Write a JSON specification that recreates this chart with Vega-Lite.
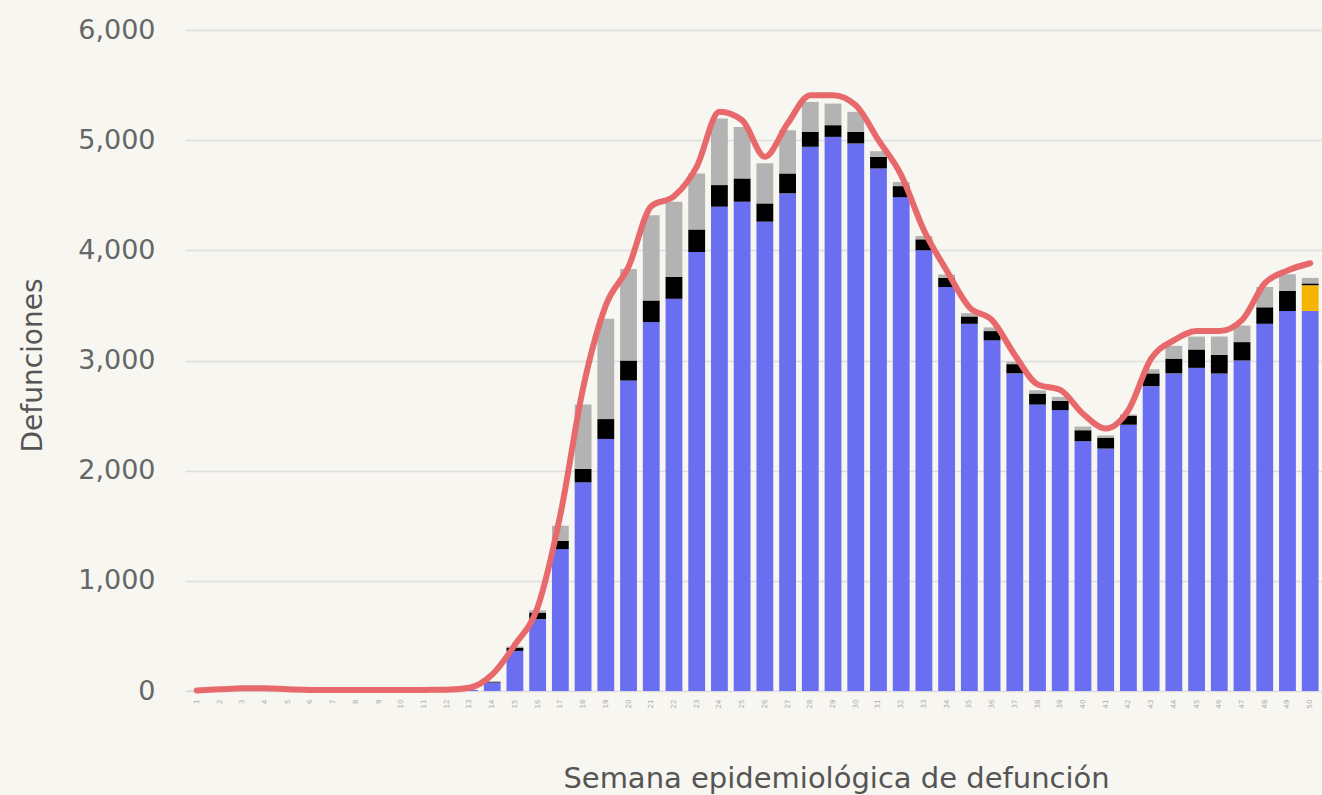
{
  "$schema": "https://vega.github.io/schema/vega-lite/v6.json",
  "width": 1137,
  "height": 661,
  "autosize": {"type": "none"},
  "padding": {"left": 185, "top": 30, "right": 0, "bottom": 104},
  "background": "#f7f6f1",
  "config": {
    "view": {"stroke": null},
    "font": "DejaVu Sans"
  },
  "datasets": {
    "barras": [
      {"semana": 1, "tipo": "Confirmado", "orden": 1, "valor": 2},
      {"semana": 2, "tipo": "Confirmado", "orden": 1, "valor": 2},
      {"semana": 3, "tipo": "Confirmado", "orden": 1, "valor": 3},
      {"semana": 4, "tipo": "Confirmado", "orden": 1, "valor": 3},
      {"semana": 5, "tipo": "Confirmado", "orden": 1, "valor": 2},
      {"semana": 6, "tipo": "Confirmado", "orden": 1, "valor": 2},
      {"semana": 7, "tipo": "Confirmado", "orden": 1, "valor": 2},
      {"semana": 8, "tipo": "Confirmado", "orden": 1, "valor": 2},
      {"semana": 9, "tipo": "Confirmado", "orden": 1, "valor": 2},
      {"semana": 10, "tipo": "Confirmado", "orden": 1, "valor": 3},
      {"semana": 11, "tipo": "Confirmado", "orden": 1, "valor": 3},
      {"semana": 12, "tipo": "Confirmado", "orden": 1, "valor": 5},
      {"semana": 13, "tipo": "Confirmado", "orden": 1, "valor": 10},
      {"semana": 14, "tipo": "Confirmado", "orden": 1, "valor": 76},
      {"semana": 14, "tipo": "Asociado", "orden": 3, "valor": 5},
      {"semana": 14, "tipo": "Sospechoso", "orden": 4, "valor": 10},
      {"semana": 15, "tipo": "Confirmado", "orden": 1, "valor": 364},
      {"semana": 15, "tipo": "Asociado", "orden": 3, "valor": 30},
      {"semana": 15, "tipo": "Sospechoso", "orden": 4, "valor": 10},
      {"semana": 16, "tipo": "Confirmado", "orden": 1, "valor": 652},
      {"semana": 16, "tipo": "Asociado", "orden": 3, "valor": 60},
      {"semana": 16, "tipo": "Sospechoso", "orden": 4, "valor": 20},
      {"semana": 17, "tipo": "Confirmado", "orden": 1, "valor": 1288},
      {"semana": 17, "tipo": "Asociado", "orden": 3, "valor": 76},
      {"semana": 17, "tipo": "Sospechoso", "orden": 4, "valor": 136},
      {"semana": 18, "tipo": "Confirmado", "orden": 1, "valor": 1894},
      {"semana": 18, "tipo": "Asociado", "orden": 3, "valor": 121},
      {"semana": 18, "tipo": "Sospechoso", "orden": 4, "valor": 585},
      {"semana": 19, "tipo": "Confirmado", "orden": 1, "valor": 2288},
      {"semana": 19, "tipo": "Asociado", "orden": 3, "valor": 180},
      {"semana": 19, "tipo": "Sospechoso", "orden": 4, "valor": 910},
      {"semana": 20, "tipo": "Confirmado", "orden": 1, "valor": 2818},
      {"semana": 20, "tipo": "Asociado", "orden": 3, "valor": 182},
      {"semana": 20, "tipo": "Sospechoso", "orden": 4, "valor": 830},
      {"semana": 21, "tipo": "Confirmado", "orden": 1, "valor": 3349},
      {"semana": 21, "tipo": "Asociado", "orden": 3, "valor": 196},
      {"semana": 21, "tipo": "Sospechoso", "orden": 4, "valor": 773},
      {"semana": 22, "tipo": "Confirmado", "orden": 1, "valor": 3560},
      {"semana": 22, "tipo": "Asociado", "orden": 3, "valor": 200},
      {"semana": 22, "tipo": "Sospechoso", "orden": 4, "valor": 680},
      {"semana": 23, "tipo": "Confirmado", "orden": 1, "valor": 3985},
      {"semana": 23, "tipo": "Asociado", "orden": 3, "valor": 205},
      {"semana": 23, "tipo": "Sospechoso", "orden": 4, "valor": 508},
      {"semana": 24, "tipo": "Confirmado", "orden": 1, "valor": 4396},
      {"semana": 24, "tipo": "Asociado", "orden": 3, "valor": 196},
      {"semana": 24, "tipo": "Sospechoso", "orden": 4, "valor": 604},
      {"semana": 25, "tipo": "Confirmado", "orden": 1, "valor": 4441},
      {"semana": 25, "tipo": "Asociado", "orden": 3, "valor": 212},
      {"semana": 25, "tipo": "Sospechoso", "orden": 4, "valor": 467},
      {"semana": 26, "tipo": "Confirmado", "orden": 1, "valor": 4260},
      {"semana": 26, "tipo": "Asociado", "orden": 3, "valor": 166},
      {"semana": 26, "tipo": "Sospechoso", "orden": 4, "valor": 364},
      {"semana": 27, "tipo": "Confirmado", "orden": 1, "valor": 4517},
      {"semana": 27, "tipo": "Asociado", "orden": 3, "valor": 181},
      {"semana": 27, "tipo": "Sospechoso", "orden": 4, "valor": 392},
      {"semana": 28, "tipo": "Confirmado", "orden": 1, "valor": 4940},
      {"semana": 28, "tipo": "Asociado", "orden": 3, "valor": 136},
      {"semana": 28, "tipo": "Sospechoso", "orden": 4, "valor": 271},
      {"semana": 29, "tipo": "Confirmado", "orden": 1, "valor": 5030},
      {"semana": 29, "tipo": "Asociado", "orden": 3, "valor": 106},
      {"semana": 29, "tipo": "Sospechoso", "orden": 4, "valor": 196},
      {"semana": 30, "tipo": "Confirmado", "orden": 1, "valor": 4970},
      {"semana": 30, "tipo": "Asociado", "orden": 3, "valor": 106},
      {"semana": 30, "tipo": "Sospechoso", "orden": 4, "valor": 181},
      {"semana": 31, "tipo": "Confirmado", "orden": 1, "valor": 4743},
      {"semana": 31, "tipo": "Asociado", "orden": 3, "valor": 106},
      {"semana": 31, "tipo": "Sospechoso", "orden": 4, "valor": 51},
      {"semana": 32, "tipo": "Confirmado", "orden": 1, "valor": 4483},
      {"semana": 32, "tipo": "Asociado", "orden": 3, "valor": 100},
      {"semana": 32, "tipo": "Sospechoso", "orden": 4, "valor": 37},
      {"semana": 33, "tipo": "Confirmado", "orden": 1, "valor": 4000},
      {"semana": 33, "tipo": "Asociado", "orden": 3, "valor": 100},
      {"semana": 33, "tipo": "Sospechoso", "orden": 4, "valor": 30},
      {"semana": 34, "tipo": "Confirmado", "orden": 1, "valor": 3667},
      {"semana": 34, "tipo": "Asociado", "orden": 3, "valor": 83},
      {"semana": 34, "tipo": "Sospechoso", "orden": 4, "valor": 30},
      {"semana": 35, "tipo": "Confirmado", "orden": 1, "valor": 3333},
      {"semana": 35, "tipo": "Asociado", "orden": 3, "valor": 67},
      {"semana": 35, "tipo": "Sospechoso", "orden": 4, "valor": 30},
      {"semana": 36, "tipo": "Confirmado", "orden": 1, "valor": 3183},
      {"semana": 36, "tipo": "Asociado", "orden": 3, "valor": 84},
      {"semana": 36, "tipo": "Sospechoso", "orden": 4, "valor": 33},
      {"semana": 37, "tipo": "Confirmado", "orden": 1, "valor": 2883},
      {"semana": 37, "tipo": "Asociado", "orden": 3, "valor": 84},
      {"semana": 37, "tipo": "Sospechoso", "orden": 4, "valor": 23},
      {"semana": 38, "tipo": "Confirmado", "orden": 1, "valor": 2600},
      {"semana": 38, "tipo": "Asociado", "orden": 3, "valor": 100},
      {"semana": 38, "tipo": "Sospechoso", "orden": 4, "valor": 30},
      {"semana": 39, "tipo": "Confirmado", "orden": 1, "valor": 2550},
      {"semana": 39, "tipo": "Asociado", "orden": 3, "valor": 83},
      {"semana": 39, "tipo": "Sospechoso", "orden": 4, "valor": 37},
      {"semana": 40, "tipo": "Confirmado", "orden": 1, "valor": 2267},
      {"semana": 40, "tipo": "Asociado", "orden": 3, "valor": 100},
      {"semana": 40, "tipo": "Sospechoso", "orden": 4, "valor": 33},
      {"semana": 41, "tipo": "Confirmado", "orden": 1, "valor": 2200},
      {"semana": 41, "tipo": "Asociado", "orden": 3, "valor": 100},
      {"semana": 41, "tipo": "Sospechoso", "orden": 4, "valor": 20},
      {"semana": 42, "tipo": "Confirmado", "orden": 1, "valor": 2417},
      {"semana": 42, "tipo": "Asociado", "orden": 3, "valor": 83},
      {"semana": 42, "tipo": "Sospechoso", "orden": 4, "valor": 10},
      {"semana": 43, "tipo": "Confirmado", "orden": 1, "valor": 2767},
      {"semana": 43, "tipo": "Asociado", "orden": 3, "valor": 116},
      {"semana": 43, "tipo": "Sospechoso", "orden": 4, "valor": 37},
      {"semana": 44, "tipo": "Confirmado", "orden": 1, "valor": 2883},
      {"semana": 44, "tipo": "Asociado", "orden": 3, "valor": 134},
      {"semana": 44, "tipo": "Sospechoso", "orden": 4, "valor": 116},
      {"semana": 45, "tipo": "Confirmado", "orden": 1, "valor": 2933},
      {"semana": 45, "tipo": "Asociado", "orden": 3, "valor": 167},
      {"semana": 45, "tipo": "Sospechoso", "orden": 4, "valor": 117},
      {"semana": 46, "tipo": "Confirmado", "orden": 1, "valor": 2883},
      {"semana": 46, "tipo": "Asociado", "orden": 3, "valor": 167},
      {"semana": 46, "tipo": "Sospechoso", "orden": 4, "valor": 167},
      {"semana": 47, "tipo": "Confirmado", "orden": 1, "valor": 3000},
      {"semana": 47, "tipo": "Asociado", "orden": 3, "valor": 167},
      {"semana": 47, "tipo": "Sospechoso", "orden": 4, "valor": 150},
      {"semana": 48, "tipo": "Confirmado", "orden": 1, "valor": 3333},
      {"semana": 48, "tipo": "Asociado", "orden": 3, "valor": 150},
      {"semana": 48, "tipo": "Sospechoso", "orden": 4, "valor": 184},
      {"semana": 49, "tipo": "Confirmado", "orden": 1, "valor": 3450},
      {"semana": 49, "tipo": "Asociado", "orden": 3, "valor": 183},
      {"semana": 49, "tipo": "Sospechoso", "orden": 4, "valor": 150},
      {"semana": 50, "tipo": "Confirmado", "orden": 1, "valor": 3450},
      {"semana": 50, "tipo": "En estudio", "orden": 2, "valor": 233},
      {"semana": 50, "tipo": "Asociado", "orden": 3, "valor": 17},
      {"semana": 50, "tipo": "Sospechoso", "orden": 4, "valor": 50}
    ],
    "estimado": [
      {"semana": 1, "total": 5}, {"semana": 2, "total": 15}, {"semana": 3, "total": 25},
      {"semana": 4, "total": 25}, {"semana": 5, "total": 15}, {"semana": 6, "total": 10},
      {"semana": 7, "total": 8}, {"semana": 8, "total": 8}, {"semana": 9, "total": 8},
      {"semana": 10, "total": 8}, {"semana": 11, "total": 10}, {"semana": 12, "total": 12},
      {"semana": 13, "total": 30}, {"semana": 14, "total": 150}, {"semana": 15, "total": 420},
      {"semana": 16, "total": 760}, {"semana": 17, "total": 1600}, {"semana": 18, "total": 2750},
      {"semana": 19, "total": 3500}, {"semana": 20, "total": 3850}, {"semana": 21, "total": 4400},
      {"semana": 22, "total": 4490}, {"semana": 23, "total": 4758}, {"semana": 24, "total": 5257},
      {"semana": 25, "total": 5181}, {"semana": 26, "total": 4849}, {"semana": 27, "total": 5151},
      {"semana": 28, "total": 5408}, {"semana": 29, "total": 5408}, {"semana": 30, "total": 5317},
      {"semana": 31, "total": 5000}, {"semana": 32, "total": 4683}, {"semana": 33, "total": 4183},
      {"semana": 34, "total": 3817}, {"semana": 35, "total": 3483}, {"semana": 36, "total": 3367},
      {"semana": 37, "total": 3050}, {"semana": 38, "total": 2783}, {"semana": 39, "total": 2733},
      {"semana": 40, "total": 2517}, {"semana": 41, "total": 2383}, {"semana": 42, "total": 2550},
      {"semana": 43, "total": 3017}, {"semana": 44, "total": 3183}, {"semana": 45, "total": 3267},
      {"semana": 46, "total": 3267}, {"semana": 47, "total": 3367}, {"semana": 48, "total": 3700},
      {"semana": 49, "total": 3817}, {"semana": 50, "total": 3883}
    ]
  },
  "encoding": {
    "x": {
      "field": "semana",
      "type": "ordinal",
      "scale": {"paddingInner": 0.26, "paddingOuter": 0.15},
      "axis": {
        "title": "Semana epidemiológica de defunción",
        "titleFont": "DejaVu Sans",
        "titleFontSize": 29,
        "titleFontWeight": "normal",
        "titleColor": "#555555",
        "titleX": 651,
        "titleY": 87,
        "titleBaseline": "middle",
        "titleAlign": "center",
        "labelAngle": 270,
        "labelFontSize": 7,
        "labelColor": "#aaaaaa",
        "labelPadding": 8,
        "ticks": false,
        "domain": false,
        "grid": false
      }
    }
  },
  "layer": [
    {
      "data": {"name": "barras"},
      "mark": {"type": "bar"},
      "encoding": {
        "y": {
          "field": "valor",
          "type": "quantitative",
          "stack": "zero",
          "scale": {"domain": [0, 6000], "nice": false},
          "axis": {
            "title": "Defunciones",
            "titleFont": "DejaVu Sans",
            "titleFontSize": 28,
            "titleFontWeight": "normal",
            "titleColor": "#555555",
            "titleAngle": 270,
            "titleX": -152,
            "titleY": 335,
            "titleAlign": "center",
            "titleBaseline": "middle",
            "values": [0, 1000, 2000, 3000, 4000, 5000, 6000],
            "format": ",.0f",
            "labelFont": "DejaVu Sans",
            "labelFontSize": 27,
            "labelColor": "#666666",
            "labelPadding": 30,
            "ticks": false,
            "domain": false,
            "grid": true,
            "gridColor": "#dddddd",
            "gridWidth": 1.5
          }
        },
        "color": {
          "field": "tipo",
          "type": "nominal",
          "scale": {
            "domain": ["Confirmado", "En estudio", "Asociado", "Sospechoso"],
            "range": ["#6a6ff2", "#f5b400", "#000000", "#b3b3b3"]
          },
          "legend": null
        },
        "order": {"field": "orden", "type": "quantitative"}
      }
    },
    {
      "data": {"name": "estimado"},
      "mark": {"type": "line", "color": "#e8696b", "strokeWidth": 6, "interpolate": "monotone", "strokeCap": "round"},
      "encoding": {
        "y": {"field": "total", "type": "quantitative"}
      }
    }
  ]
}
